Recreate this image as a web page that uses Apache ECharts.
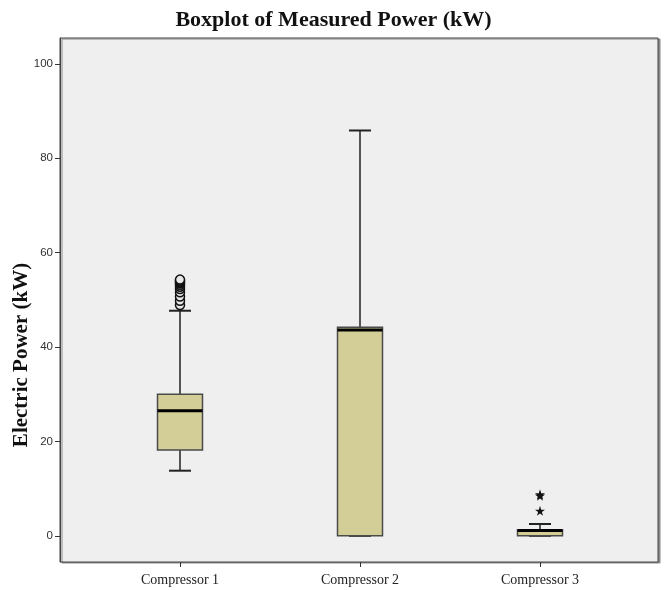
<!DOCTYPE html>
<html>
<head>
<meta charset="utf-8">
<script src="https://cdn.jsdelivr.net/npm/echarts@6/dist/echarts.min.js"></script>
<style>html,body{margin:0;padding:0;background:#fff;}#c{width:667px;height:590px;}</style>
</head>
<body>
<div id="c"></div>
<script>
const categories = ['Compressor 1', 'Compressor 2', 'Compressor 3'];
const whiskerLow = [13.8, 0, 0];
const q1 = [18.2, 0, 0];
const median = [26.5, 43.6, 1.1];
const q3 = [30.0, 44.2, 1.3];
const whiskerHigh = [47.7, 85.9, 2.5];
const outliersC1 = [48.9, 49.8, 50.7, 51.6, 52.3, 52.8, 53.2, 53.5, 53.7, 53.9, 54.1, 54.3];
const extremesC3 = [5.3, 8.5, 8.8];
const yTicks = [0, 20, 40, 60, 80, 100];

const chart = echarts.init(document.getElementById('c'), null, {renderer: 'canvas'});
const serif = '"Liberation Serif", "Times New Roman", serif';
const sans = '"Liberation Sans", Arial, sans-serif';
const yMin = -5.55, yMax = 105.5;

chart.setOption({
  backgroundColor: '#ffffff',
  animation: false,
  title: {
    text: 'Boxplot of Measured Power (kW)',
    left: 'center',
    top: 4,
    textStyle: {fontFamily: serif, fontWeight: 'bold', fontSize: 22, color: '#111'}
  },
  graphic: [{
    type: 'text',
    x: 22, y: 355,
    rotation: Math.PI / 2,
    style: {text: 'Electric Power (kW)', font: 'bold 21px ' + serif, fill: '#111', align: 'center', verticalAlign: 'middle'}
  }],
  grid: [
    {left: 60, right: 9, top: 38, bottom: 28, show: true, backgroundColor: '#efefef', borderColor: '#444', borderWidth: 1,
     shadowColor: '#8a8a8a', shadowBlur: 0, shadowOffsetX: 2, shadowOffsetY: 1},
    {left: 90, width: 540, top: 38, bottom: 28}
  ],
  xAxis: [
    {gridIndex: 0, type: 'value', min: 0, max: 1, show: false},
    {gridIndex: 1, type: 'category', data: categories, boundaryGap: true, position: 'bottom',
     axisLine: {show: false, onZero: false},
     axisTick: {show: true, alignWithLabel: true, length: 5, lineStyle: {color: '#333', width: 1}},
     axisLabel: {fontFamily: serif, fontSize: 14, color: '#222', margin: 11}
    }
  ],
  yAxis: [
    {gridIndex: 0, type: 'value', min: yMin, max: yMax,
     splitLine: {show: false},
     axisLine: {show: true, onZero: false, lineStyle: {color: '#444'}},
     axisTick: {show: true, length: 5, customValues: yTicks, lineStyle: {color: '#333'}},
     axisLabel: {customValues: yTicks, fontFamily: sans, fontSize: 11.5, color: '#333', margin: 7}
    },
    {gridIndex: 1, type: 'value', min: yMin, max: yMax, show: false, splitLine: {show: false}}
  ],
  series: [
    {
      type: 'custom',
      xAxisIndex: 1, yAxisIndex: 1,
      data: categories.map((c, i) => [i, whiskerLow[i], q1[i], median[i], q3[i], whiskerHigh[i]]),
      renderItem: function (params, api) {
        const i = api.value(0);
        const x = api.coord([i, 0])[0];
        const y = k => api.coord([i, api.value(k)])[1];
        const yLo = y(1), yQ1 = y(2), yMed = y(3), yQ3 = y(4), yHi = y(5);
        const hb = 22.5, hc = 11;
        const ls = {stroke: '#222', lineWidth: 1.5};
        return {
          type: 'group',
          children: [
            {type: 'line', shape: {x1: x, y1: yQ3, x2: x, y2: yHi}, style: ls},
            {type: 'line', shape: {x1: x, y1: yQ1, x2: x, y2: yLo}, style: ls},
            {type: 'line', shape: {x1: x - hc, y1: yHi, x2: x + hc, y2: yHi}, style: {stroke: '#222', lineWidth: 2}},
            {type: 'line', shape: {x1: x - hc, y1: yLo, x2: x + hc, y2: yLo}, style: {stroke: '#222', lineWidth: 2}},
            {type: 'rect', shape: {x: x - hb, y: yQ3, width: 2 * hb, height: Math.max(yQ1 - yQ3, 1)},
             style: {fill: '#d3ce98', stroke: '#4a4a4a', lineWidth: 1.5}},
            {type: 'line', shape: {x1: x - hb, y1: yMed, x2: x + hb, y2: yMed}, style: {stroke: '#000', lineWidth: 3}}
          ]
        };
      },
      z: 2
    },
    {
      type: 'scatter',
      xAxisIndex: 1, yAxisIndex: 1,
      data: outliersC1.map(v => [0, v]),
      symbol: 'circle',
      symbolSize: 9,
      itemStyle: {color: '#e8e8e8', borderColor: '#111', borderWidth: 1.5, opacity: 1},
      z: 3
    },
    {
      type: 'scatter',
      xAxisIndex: 1, yAxisIndex: 1,
      data: extremesC3.map(v => [2, v]),
      symbol: 'path://M50,0 L61,35 L98,35 L68,57 L79,91 L50,70 L21,91 L32,57 L2,35 L39,35 Z',
      symbolSize: 10,
      itemStyle: {color: '#111', opacity: 1},
      z: 3
    }
  ]
});
</script>
</body>
</html>
